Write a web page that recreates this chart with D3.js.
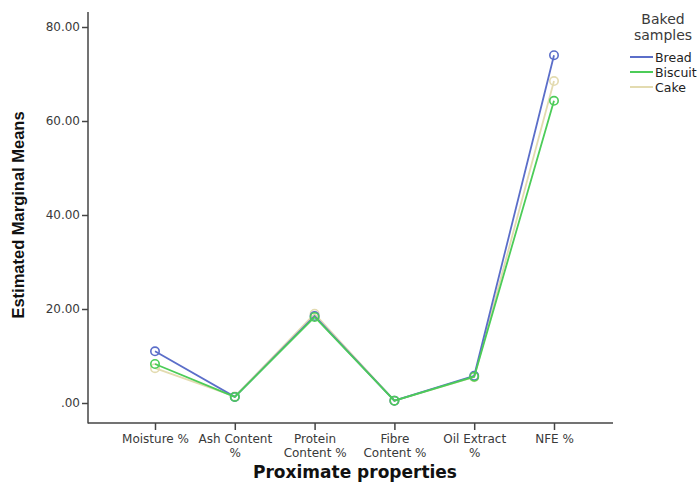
<!DOCTYPE html>
<html>
<head>
<meta charset="utf-8">
<script src="https://cdn.jsdelivr.net/npm/d3@7"></script>
<style>
  html, body { margin: 0; padding: 0; background: #fff; }
  svg { display: block; font-family: "DejaVu Sans", Verdana, sans-serif; }
</style>
</head>
<body>
<svg id="chart" width="699" height="484"></svg>
<script>
// Proximate properties (x categories), two-line tick labels
const categories = ["Moisture %", "Ash Content %", "Protein Content %", "Fibre Content %", "Oil Extract %", "NFE %"];
const categoryLabels = [["Moisture %"], ["Ash Content", "%"], ["Protein", "Content %"], ["Fibre", "Content %"], ["Oil Extract", "%"], ["NFE %"]];

// Estimated marginal means per baked sample
const seriesNames = ["Bread", "Biscuit", "Cake"];
const breadValues   = [11.0, 1.3, 18.5, 0.5, 5.8, 74.0];
const biscuitValues = [8.3, 1.3, 18.3, 0.5, 5.6, 64.3];
const cakeValues    = [7.4, 1.4, 19.0, 0.5, 5.5, 68.5];
const seriesColors  = ["#5b6ec9", "#4ccc58", "#e3dbb0"];

const yTicks = [0, 20, 40, 60, 80];
const yTickLabels = [".00", "20.00", "40.00", "60.00", "80.00"];

const series = [breadValues, biscuitValues, cakeValues].map((vals, i) => ({
  name: seriesNames[i], color: seriesColors[i],
  points: vals.map((v, j) => ({ cat: categories[j], value: v }))
}));

const svg = d3.select("#chart");
const axisColor = "#444";
const textColor = "#3a3a3a";

const plotLeft = 88, plotRight = 613, plotTop = 12, plotBottom = 423;

const x = d3.scalePoint().domain(categories).range([155, 554]);
const y = d3.scaleLinear().domain([0, 80]).range([403, 27]);

// Y axis
const yAxis = d3.axisLeft(y).tickValues(yTicks)
  .tickFormat(d => yTickLabels[yTicks.indexOf(d)])
  .tickSize(6).tickSizeOuter(0);
const gy = svg.append("g").attr("transform", `translate(${plotLeft},0)`).call(yAxis);
gy.select(".domain").remove();
gy.selectAll(".tick line").attr("stroke", axisColor).attr("stroke-width", 1.5);
gy.selectAll(".tick text").attr("fill", textColor)
  .style("font-family", "'DejaVu Sans', Verdana, sans-serif")
  .style("font-size", "12px").attr("x", -8);
svg.append("line").attr("x1", plotLeft).attr("x2", plotLeft)
  .attr("y1", plotTop).attr("y2", plotBottom + 0.5)
  .attr("stroke", axisColor).attr("stroke-width", 1.5);

// X axis
const xAxis = d3.axisBottom(x).tickSize(7).tickSizeOuter(0).tickFormat("");
const gx = svg.append("g").attr("transform", `translate(0,${plotBottom})`).call(xAxis);
gx.select(".domain").remove();
gx.selectAll(".tick line").attr("stroke", axisColor).attr("stroke-width", 1.5);
svg.append("line").attr("x1", plotLeft).attr("x2", plotRight)
  .attr("y1", plotBottom).attr("y2", plotBottom)
  .attr("stroke", axisColor).attr("stroke-width", 1.5);
gx.selectAll(".tick").each(function (d, i) {
  const t = d3.select(this).append("text")
    .attr("text-anchor", "middle").attr("fill", textColor)
    .style("font-family", "'DejaVu Sans', Verdana, sans-serif")
    .style("font-size", "12px");
  categoryLabels[i].forEach((line, k) => {
    t.append("tspan").attr("x", 0).attr("y", 20 + k * 13.5).text(line);
  });
});

// Axis titles
svg.append("text")
  .attr("transform", `translate(24,215) rotate(-90)`)
  .attr("text-anchor", "middle")
  .style("font-family", "'Liberation Sans', Arial, sans-serif")
  .style("font-size", "16.5px").style("font-weight", "bold")
  .attr("fill", "#111")
  .text("Estimated Marginal Means");

svg.append("text")
  .attr("x", 355).attr("y", 478)
  .attr("text-anchor", "middle")
  .style("font-family", "'DejaVu Sans', Verdana, sans-serif")
  .style("font-size", "17px").style("font-weight", "bold")
  .attr("fill", "#111")
  .text("Proximate properties");

// Lines and open markers (drawn back-to-front: Cake, Bread, Biscuit)
const line = d3.line().x(d => x(d.cat)).y(d => y(d.value));
const drawOrder = [series[2], series[0], series[1]];
drawOrder.forEach(s => {
  svg.append("path").datum(s.points)
    .attr("d", line).attr("fill", "none")
    .attr("stroke", s.color).attr("stroke-width", 1.8);
  svg.selectAll(null).data(s.points).enter().append("circle")
    .attr("cx", d => x(d.cat)).attr("cy", d => y(d.value)).attr("r", 4.2)
    .attr("fill", "none").attr("stroke", s.color).attr("stroke-width", 1.6);
});

// Legend
const legend = svg.append("g");
legend.append("text").attr("x", 663).attr("y", 24).attr("text-anchor", "middle")
  .attr("fill", textColor).style("font-size", "14px").text("Baked");
legend.append("text").attr("x", 663).attr("y", 40).attr("text-anchor", "middle")
  .attr("fill", textColor).style("font-size", "14px").text("samples");
series.forEach((s, i) => {
  const ly = 57 + i * 15;
  legend.append("line").attr("x1", 630).attr("x2", 653).attr("y1", ly).attr("y2", ly)
    .attr("stroke", s.color).attr("stroke-width", 2);
  legend.append("text").attr("x", 655).attr("y", ly + 4.5)
    .attr("fill", "#222").style("font-size", "12.5px").text(s.name);
});
</script>
</body>
</html>
